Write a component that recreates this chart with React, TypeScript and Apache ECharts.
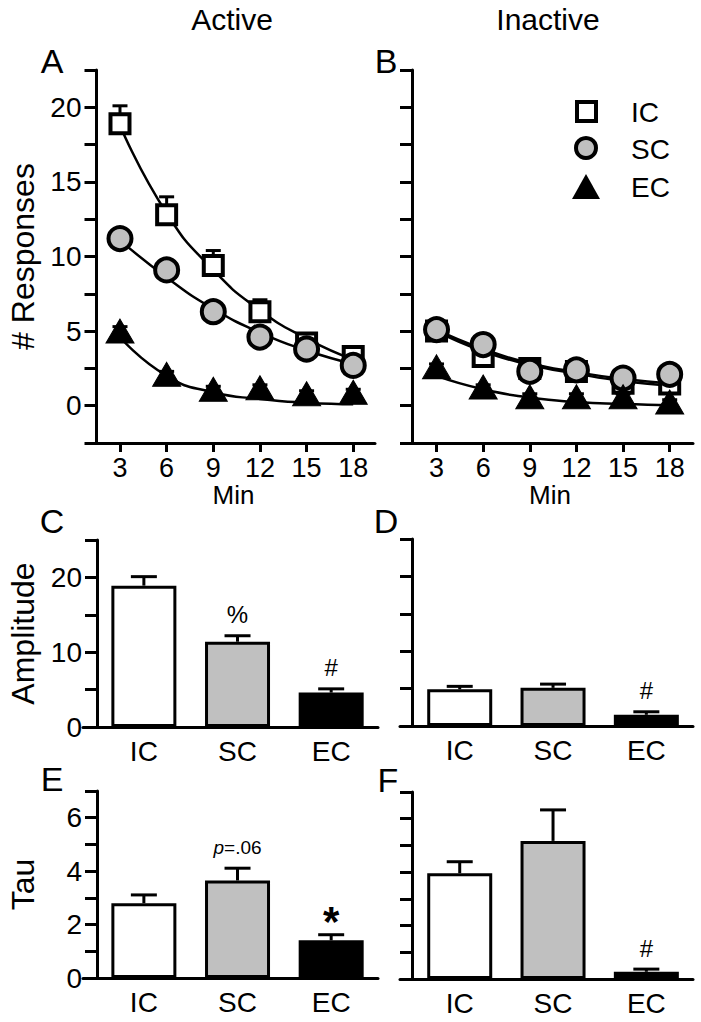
import React, { useEffect, useRef } from 'react';
import * as echarts from 'echarts';

const FONT = "'Liberation Sans', Arial, Helvetica, sans-serif";

// ---- Data ----
const minutes = [3, 6, 9, 12, 15, 18];
const groups = ['IC', 'SC', 'EC'];

// Panel A (Active): means, upper error-bar ends, fitted curve
const activeIC = [18.9, 12.8, 9.4, 6.3, 4.2, 3.3];
const activeICErr = [20.1, 14.0, 10.4, 7.1, 4.7, 3.6];
const activeICFit = [18.8, 12.9, 9.1, 6.4, 4.5, 3.1];
const activeSC = [11.2, 9.1, 6.3, 4.6, 3.8, 2.7];
const activeSCErr = [11.8, 9.4, 6.6, 5.0, 4.1, 3.0];
const activeSCFit = [11.1, 8.6, 6.5, 4.9, 3.7, 2.8];
const activeEC = [5.0, 2.1, 1.1, 1.2, 0.8, 0.9];
const activeECErr = [5.3, 2.3, 1.3, 1.4, 1.0, 1.1];
const activeECFit = [4.6, 2.0, 0.9, 0.45, 0.2, 0.1];

// Panel B (Inactive)
const inactiveIC = [5.0, 3.3, 2.5, 2.3, 1.5, 1.45];
const inactiveICErr = [5.3, 3.6, 2.7, 2.6, 1.8, 1.7];
const inactiveICFit = [5.0, 3.65, 2.75, 2.15, 1.65, 1.35];
const inactiveSC = [5.1, 4.1, 2.3, 2.4, 1.85, 2.1];
const inactiveSCErr = [5.5, 4.4, 2.5, 2.7, 2.1, 2.4];
const inactiveSCFit = [5.1, 3.8, 2.85, 2.25, 1.8, 1.5];
const inactiveEC = [2.6, 1.25, 0.6, 0.6, 0.6, 0.25];
const inactiveECErr = [2.8, 1.4, 0.8, 0.8, 0.8, 0.4];
const inactiveECFit = [2.0, 1.1, 0.55, 0.25, 0.12, 0.05];

// Panels C-F (bars): means and upper error-bar ends
const ampActive = [18.9, 11.4, 4.6];
const ampActiveErr = [20.1, 12.2, 5.1];
const ampInactive = [4.9, 5.1, 1.5];
const ampInactiveErr = [5.3, 5.6, 1.9];
const tauActive = [2.8, 3.65, 1.41];
const tauActiveErr = [3.11, 4.11, 1.62];
const tauInactive = [3.96, 5.17, 0.27];
const tauInactiveErr = [4.39, 6.33, 0.37];

const ampActiveNotes = ['', '%', '#'];
const ampInactiveNotes = ['', '', '#'];
const tauActiveNotes = ['', '{i|p}{n|=.06}', '{b|*}'];
const tauInactiveNotes = ['', '', '#'];

const yTicksA = { min: -2.5, max: 22.5, interval: 2.5 };
const yTicksAmp = { min: 0, max: 25, interval: 5 };
const yTicksTau = { min: 0, max: 7, interval: 1 };

// ---- Styles ----
const BLACK = '#000';
const GREY = '#c0c0c0';
const barFills = ['#ffffff', GREY, BLACK];
const lineStyle = { color: BLACK, width: 3 };

const grids = [
  { left: 92, top: 70, width: 283, height: 373 },
  { left: 407, top: 70, width: 286, height: 373 },
  { left: 83, top: 540, width: 295, height: 187 },
  { left: 400, top: 539, width: 293, height: 187 },
  { left: 83, top: 791, width: 295, height: 187 },
  { left: 400, top: 792, width: 293, height: 187 },
];

function lineXAxis(gridIndex: number, min: number, max: number) {
  return {
    gridIndex, type: 'value', min, max,
    axisLine: { show: true, onZero: false, lineStyle },
    axisTick: { show: true, customValues: minutes, length: 9, lineStyle },
    axisLabel: { customValues: minutes, fontSize: 27, color: BLACK, margin: 11, fontFamily: FONT },
    splitLine: { show: false },
    name: 'Min', nameLocation: 'middle', nameGap: 36,
    nameTextStyle: { fontSize: 26, color: BLACK, fontFamily: FONT },
  };
}

function barXAxis(gridIndex: number, min: number, max: number) {
  return {
    gridIndex, type: 'value', min, max,
    axisLine: { show: true, onZero: false, lineStyle },
    axisTick: { show: false },
    axisLabel: {
      customValues: [1, 2, 3],
      formatter: (v: number) => groups[Math.round(v) - 1] || '',
      fontSize: 28, color: BLACK, margin: 10, fontFamily: FONT,
    },
    splitLine: { show: false },
  };
}

function yAxis(gridIndex: number, ticks: any, offset: number, labelEvery: number | null, name: string, nameGap: number) {
  return {
    gridIndex, type: 'value', min: ticks.min, max: ticks.max, interval: ticks.interval, offset,
    axisLine: { show: true, onZero: false, lineStyle },
    axisTick: { show: true, length: 12, lineStyle },
    axisLabel: {
      show: labelEvery !== null,
      formatter: (v: number) => (labelEvery !== null && Math.abs(v % labelEvery) < 1e-9 ? String(v) : ''),
      fontSize: 28, color: BLACK, margin: 15, fontFamily: FONT,
    },
    splitLine: { show: false },
    name, nameLocation: 'middle', nameGap,
    nameTextStyle: { fontSize: 32, color: BLACK, fontFamily: FONT },
  };
}

function errSeries(gi: number, xs: number[], means: number[], tops: number[], cap: number, notes?: string[]) {
  return {
    type: 'custom', xAxisIndex: gi, yAxisIndex: gi, z: 1, silent: true,
    data: xs.map((x, i) => [x, means[i], tops[i], i]),
    renderItem: (params: any, api: any) => {
      const x = api.value(0), m = api.value(1), t = api.value(2), i = api.value(3);
      const p0 = api.coord([x, m]);
      const p1 = api.coord([x, t]);
      const children: any[] = [
        { type: 'line', shape: { x1: p0[0], y1: p0[1], x2: p1[0], y2: p1[1] }, style: { stroke: BLACK, lineWidth: 3 } },
        { type: 'line', shape: { x1: p1[0] - cap / 2, y1: p1[1], x2: p1[0] + cap / 2, y2: p1[1] }, style: { stroke: BLACK, lineWidth: 3 } },
      ];
      if (notes && notes[i]) {
        children.push({
          type: 'text', x: p1[0], y: p1[1] - 21,
          style: {
            text: notes[i], align: 'center', verticalAlign: 'middle',
            fontSize: 24, fontFamily: FONT, fill: BLACK,
            rich: {
              i: { fontStyle: 'italic', fontSize: 19, fontFamily: FONT },
              n: { fontSize: 19, fontFamily: FONT },
              b: { fontSize: 42, fontWeight: 'bold', fontFamily: FONT, padding: [16, 0, 0, 0] },
            },
          },
        });
      }
      return { type: 'group', children };
    },
  };
}

function fitSeries(gi: number, name: string, vals: number[]) {
  return {
    type: 'line', name, xAxisIndex: gi, yAxisIndex: gi, z: 2, silent: true,
    data: minutes.map((m, i) => [m, vals[i]]),
    showSymbol: false, symbol: 'none', smooth: 0.55,
    lineStyle: { color: BLACK, width: 2.5 },
  };
}

const markerStyles: Record<string, any> = {
  IC: { symbol: 'rect', symbolSize: 19, itemStyle: { color: '#fff', borderColor: BLACK, borderWidth: 4, opacity: 1 } },
  SC: { symbol: 'circle', symbolSize: 23, itemStyle: { color: GREY, borderColor: BLACK, borderWidth: 4, opacity: 1 } },
  EC: { symbol: 'triangle', symbolSize: [28, 24], itemStyle: { color: BLACK, borderColor: BLACK, borderWidth: 1, opacity: 1 } },
};

function pointSeries(gi: number, name: string, vals: number[]) {
  return {
    type: 'scatter', name, xAxisIndex: gi, yAxisIndex: gi, z: 3, silent: true,
    data: minutes.map((m, i) => [m, vals[i]]),
    ...markerStyles[name],
  };
}

function barSeries(gi: number, vals: number[]) {
  return {
    type: 'bar', xAxisIndex: gi, yAxisIndex: gi, z: 2, silent: true, barWidth: 65,
    data: vals.map((v, i) => ({ value: [i + 1, v], itemStyle: { color: barFills[i] } })),
    itemStyle: { borderColor: BLACK, borderWidth: 3, opacity: 1 },
  };
}

function txt(x: number, y: number, text: string, size: number, align = 'center') {
  return {
    type: 'text', x, y,
    style: { text, fontSize: size, fontFamily: FONT, fill: BLACK, align, verticalAlign: 'middle' },
  };
}

const lineData = [
  { gi: 0, sets: [
    ['IC', activeIC, activeICErr, activeICFit],
    ['SC', activeSC, activeSCErr, activeSCFit],
    ['EC', activeEC, activeECErr, activeECFit],
  ] },
  { gi: 1, sets: [
    ['IC', inactiveIC, inactiveICErr, inactiveICFit],
    ['SC', inactiveSC, inactiveSCErr, inactiveSCFit],
    ['EC', inactiveEC, inactiveECErr, inactiveECFit],
  ] },
];

const series: any[] = [];
lineData.forEach(({ gi, sets }) => {
  sets.forEach(([name, vals, errs, fit]: any) => {
    series.push(errSeries(gi, minutes, vals, errs, 15));
    series.push(fitSeries(gi, name, fit));
    series.push(pointSeries(gi, name, vals));
  });
});

const barData: [number, number[], number[], string[]][] = [
  [2, ampActive, ampActiveErr, ampActiveNotes],
  [3, ampInactive, ampInactiveErr, ampInactiveNotes],
  [4, tauActive, tauActiveErr, tauActiveNotes],
  [5, tauInactive, tauInactiveErr, tauInactiveNotes],
];
barData.forEach(([gi, vals, errs, notes]) => {
  series.push(barSeries(gi, vals));
  series.push(errSeries(gi, [1, 2, 3], vals, errs, 26, notes));
});

const option: any = {
  animation: false,
  backgroundColor: '#fff',
  textStyle: { fontFamily: FONT },
  grid: grids,
  xAxis: [
    lineXAxis(0, 1.2, 19.4),
    lineXAxis(1, 1.1, 19.5),
    barXAxis(2, 0.35, 3.5),
    barXAxis(3, 0.36, 3.5),
    barXAxis(4, 0.35, 3.5),
    barXAxis(5, 0.36, 3.5),
  ],
  yAxis: [
    yAxis(0, yTicksA, -4.5, 5, '# Responses', 58),
    yAxis(1, yTicksA, -5, null, '', 0),
    yAxis(2, yTicksAmp, -14, 10, 'Amplitude', 58),
    yAxis(3, yTicksAmp, -12, null, '', 0),
    yAxis(4, yTicksTau, -14, 2, 'Tau', 58),
    yAxis(5, yTicksTau, -12, null, '', 0),
  ],
  series,
  graphic: [
    txt(232, 19, 'Active', 30),
    txt(548, 19, 'Inactive', 30),
    txt(52, 61, 'A', 34),
    txt(386, 61, 'B', 34),
    txt(52, 521, 'C', 34),
    txt(386, 521, 'D', 34),
    txt(52, 779, 'E', 34),
    txt(388, 780, 'F', 34),
    { type: 'rect', shape: { x: 577, y: 102, width: 19, height: 19 }, style: { fill: '#fff', stroke: BLACK, lineWidth: 4 } },
    { type: 'circle', shape: { cx: 586, cy: 148, r: 10 }, style: { fill: GREY, stroke: BLACK, lineWidth: 4 } },
    { type: 'polygon', shape: { points: [[586, 174], [600, 199], [572, 199]] }, style: { fill: BLACK } },
    txt(631, 112, 'IC', 28, 'left'),
    txt(631, 149, 'SC', 28, 'left'),
    txt(631, 187, 'EC', 28, 'left'),
  ],
};

export default function App() {
  const ref = useRef<HTMLDivElement>(null);
  useEffect(() => {
    const chart = echarts.init(ref.current!, null, { renderer: 'svg' });
    chart.setOption(option);
    return () => chart.dispose();
  }, []);
  return (
    <div
      ref={ref}
      style={{ position: 'absolute', left: 0, top: 0, width: 701, height: 1022, background: '#fff' }}
    />
  );
}
